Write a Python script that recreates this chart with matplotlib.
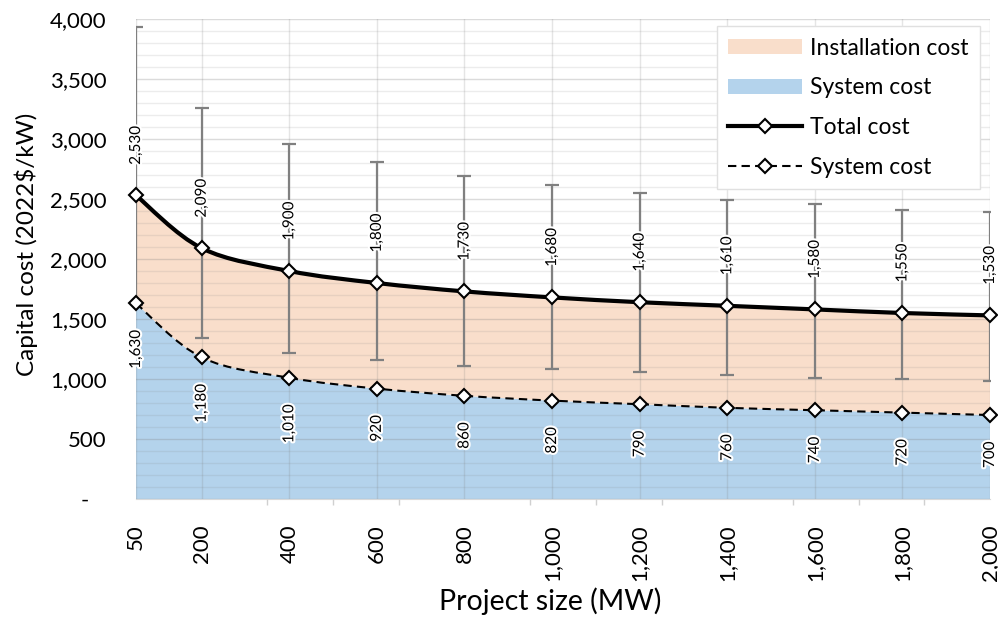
import matplotlib
matplotlib.use('Agg')
import matplotlib.pyplot as plt
import matplotlib.patheffects as pe
import numpy as np
from matplotlib.path import Path
from matplotlib.patches import PathPatch, Patch
from matplotlib.lines import Line2D
from matplotlib.ticker import FuncFormatter

plt.rcParams['font.family'] = ['Lato', 'DejaVu Sans']

# Data
project_size = [50, 200, 400, 600, 800, 1000, 1200, 1400, 1600, 1800, 2000]
total_cost = [2530, 2090, 1900, 1800, 1730, 1680, 1640, 1610, 1580, 1550, 1530]
system_cost = [1630, 1180, 1010, 920, 860, 820, 790, 760, 740, 720, 700]
range_high = [3930, 3260, 2960, 2810, 2690, 2620, 2550, 2490, 2460, 2410, 2390]
range_low = [1620, 1340, 1220, 1160, 1110, 1080, 1060, 1030, 1010, 1000, 980]

peach = '#F9DECB'
blue = '#B4D3EC'
bar_gray = '#808080'


def bezier_segments(xs, ys):
    # Excel-like smoothed line: one cubic Bezier between each pair of points
    pts = np.column_stack([xs, ys]).astype(float)
    n = len(pts)
    segs = []
    for i in range(n - 1):
        p0, p3 = pts[i], pts[i + 1]
        prev = pts[max(i - 1, 0)]
        nxt = pts[min(i + 2, n - 1)]
        c1 = p0 + (p3 - prev) / 6
        c2 = p3 - (nxt - p0) / 6
        segs.append((p0, c1, c2, p3))
    return segs


def forward(segs):
    verts = [segs[0][0]]
    for p0, c1, c2, p3 in segs:
        verts += [c1, c2, p3]
    return verts


def backward(segs):
    verts = [segs[-1][3]]
    for p0, c1, c2, p3 in reversed(segs):
        verts += [c2, c1, p0]
    return verts


tot_segs = bezier_segments(project_size, total_cost)
sys_segs = bezier_segments(project_size, system_cost)
k = 3 * len(tot_segs)

fig = plt.figure(figsize=(9.98, 6.22), dpi=100)
ax = fig.add_axes([0.1363, 0.1977, 0.992 - 0.1363, 0.9695 - 0.1977])

# filled areas
sys_verts = forward(sys_segs) + [(project_size[-1], 0), (project_size[0], 0), (project_size[0], 0)]
sys_codes = [Path.MOVETO] + [Path.CURVE4] * k + [Path.LINETO, Path.LINETO, Path.CLOSEPOLY]
ax.add_patch(PathPatch(Path(sys_verts, sys_codes), facecolor=blue, edgecolor='none', zorder=1))

inst_verts = forward(tot_segs) + backward(sys_segs) + [tot_segs[0][0]]
inst_codes = [Path.MOVETO] + [Path.CURVE4] * k + [Path.LINETO] + [Path.CURVE4] * k + [Path.CLOSEPOLY]
ax.add_patch(PathPatch(Path(inst_verts, inst_codes), facecolor=peach, edgecolor='none', zorder=1))

# error bars on total cost
yerr = [np.array(total_cost) - np.array(range_low), np.array(range_high) - np.array(total_cost)]
ax.errorbar(project_size, total_cost, yerr=yerr, fmt='none', ecolor=bar_gray,
            elinewidth=1.6, capsize=5, capthick=1.6, zorder=3)

# smoothed lines
line_codes = [Path.MOVETO] + [Path.CURVE4] * k
ax.add_patch(PathPatch(Path(forward(tot_segs), line_codes), fill=False, edgecolor='black',
                       linewidth=3, zorder=4, clip_on=False, capstyle='round'))
ax.add_patch(PathPatch(Path(forward(sys_segs), line_codes), fill=False, edgecolor='black',
                       linewidth=1.5, linestyle=(0, (4, 2.5)), zorder=4, clip_on=False))

ax.plot(project_size, total_cost, ls='none', marker='D', ms=7, mfc='white', mec='black',
        mew=1.5, zorder=5, clip_on=False)
ax.plot(project_size, system_cost, ls='none', marker='D', ms=7, mfc='white', mec='black',
        mew=1.5, zorder=5, clip_on=False)

# data labels
halo = [pe.withStroke(linewidth=3, foreground='white')]
for x, v in zip(project_size, total_cost):
    ax.annotate(f'{v:,}', (x, v), xytext=(0, 22), textcoords='offset points', rotation=90,
                ha='center', va='bottom', fontsize=11, path_effects=halo, zorder=6)
for x, v in zip(project_size, system_cost):
    ax.annotate(f'{v:,}', (x, v), xytext=(0, -19), textcoords='offset points', rotation=90,
                ha='center', va='top', fontsize=11, path_effects=halo, zorder=6)

# axes
ax.set_xlim(50, 2000)
ax.set_ylim(0, 4000)
ax.set_yticks(np.arange(0, 4001, 500))
ax.set_yticks(np.arange(0, 4001, 100), minor=True)
ax.yaxis.set_major_formatter(FuncFormatter(lambda v, p: '-   ' if v == 0 else f'{v:,.0f}'))
ax.set_xticks(project_size)
ax.set_xticklabels([f'{x:,}' for x in project_size], rotation=90)
ax.set_xticks(np.arange(50, 2001, 150), minor=True)

ax.tick_params(axis='y', which='both', length=0, pad=21, labelsize=16)
ax.tick_params(axis='x', which='major', length=0, pad=18, labelsize=16)
ax.tick_params(axis='x', which='minor', length=4, color='#D0D0D0', width=1)

ax.set_axisbelow(False)
ax.grid(axis='y', which='major', color='#7F7F7F', alpha=0.28, lw=1)
ax.grid(axis='y', which='minor', color='#7F7F7F', alpha=0.14, lw=1)
ax.grid(axis='x', which='major', color='#7F7F7F', alpha=0.2, lw=1)

for s in ['top', 'right', 'left']:
    ax.spines[s].set_visible(False)
ax.spines['bottom'].set_color('#D9D9D9')

ax.set_xlabel('Project size (MW)', fontsize=20.5)
ax.set_ylabel('Capital cost (2022$/kW)', fontsize=17.5)
ax.xaxis.set_label_coords(0.485, -0.185)
ax.yaxis.set_label_coords(-0.115, 0.53)

handles = [
    Patch(facecolor=peach, label='Installation cost'),
    Patch(facecolor=blue, label='System cost'),
    Line2D([], [], color='black', lw=3, marker='D', ms=7, mfc='white', mec='black', mew=1.5,
           label='Total cost'),
    Line2D([], [], color='black', lw=1.5, ls=(0, (4, 2.5)), marker='D', ms=7, mfc='white',
           mec='black', mew=1.5, label='System cost'),
]
leg = ax.legend(handles=handles, loc='upper right', bbox_to_anchor=(0.988, 0.985),
                borderaxespad=0, fontsize=16.5, handlelength=3.2, labelspacing=0.82,
                handletextpad=0.35, borderpad=0.5, fancybox=False, framealpha=1,
                edgecolor='#E0E0E0', numpoints=1, handleheight=0.65)
leg.set_zorder(10)

fig.savefig('out.png', dpi=100)
